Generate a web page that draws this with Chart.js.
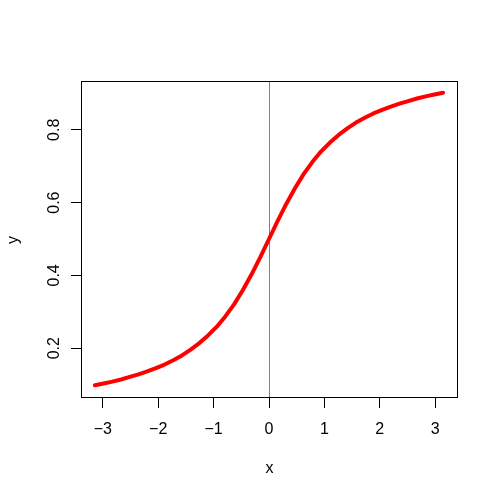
<!DOCTYPE html>
<html>
<head>
<meta charset="utf-8">
<script src="https://cdn.jsdelivr.net/npm/chart.js@4/dist/chart.umd.min.js"></script>
<style>
html,body{margin:0;padding:0;background:#fff;}
#c{display:block;}
</style>
</head>
<body>
<canvas id="c" width="500" height="500"></canvas>
<script>
const xValues = [-3.142,-2.985,-2.827,-2.670,-2.513,-2.356,-2.199,-2.042,-1.885,-1.728,-1.571,-1.414,-1.257,-1.100,-0.942,-0.785,-0.628,-0.471,-0.314,-0.157,0,
  0.157,0.314,0.471,0.628,0.785,0.942,1.100,1.257,1.414,1.571,1.728,1.885,2.042,2.199,2.356,2.513,2.670,2.827,2.985,3.142];
const yValues = [0.098,0.103,0.108,0.114,0.121,0.128,0.136,0.145,0.155,0.167,0.180,0.196,0.214,0.235,0.259,0.288,0.321,0.360,0.403,0.450,0.500,
  0.550,0.597,0.640,0.679,0.712,0.741,0.765,0.786,0.804,0.820,0.833,0.845,0.855,0.864,0.872,0.879,0.886,0.892,0.897,0.902];
const xTicks = [-3,-2,-1,0,1,2,3];
const yTicks = [0.2,0.4,0.6,0.8];
const xLabel = "x";
const yLabel = "y";
const vLineX = 0;

const FONT = "16px 'Liberation Sans', Arial, sans-serif";
const fmt = v => (v < 0 ? "\u2212" + String(Math.abs(v)) : String(v));

const pad = 0.04;
const xMin = Math.min(...xValues), xMax = Math.max(...xValues);
const yMin = Math.min(...yValues), yMax = Math.max(...yValues);
const xr = xMax - xMin, yr = yMax - yMin;

const vlinePlugin = {
  id: 'vline',
  beforeDatasetsDraw(chart) {
    const ctx = chart.ctx, a = chart.chartArea;
    const px = Math.round(chart.scales.x.getPixelForValue(vLineX)) + 0.5;
    ctx.save();
    ctx.strokeStyle = '#808080';
    ctx.lineWidth = 1;
    ctx.beginPath();
    ctx.moveTo(px, a.top);
    ctx.lineTo(px, a.bottom);
    ctx.stroke();
    ctx.restore();
  }
};

const framePlugin = {
  id: 'frame',
  afterDraw(chart) {
    const ctx = chart.ctx, a = chart.chartArea;
    const xs = chart.scales.x, ys = chart.scales.y;
    ctx.save();
    ctx.strokeStyle = '#000';
    ctx.lineWidth = 1;
    ctx.strokeRect(Math.round(a.left) + 0.5, Math.round(a.top) + 0.5,
                   Math.round(a.right - a.left), Math.round(a.bottom - a.top));
    ctx.fillStyle = '#000';
    ctx.font = FONT;
    ctx.textAlign = 'center';
    ctx.textBaseline = 'alphabetic';
    xTicks.forEach(v => ctx.fillText(fmt(v), xs.getPixelForValue(v), 434));
    yTicks.forEach(v => {
      ctx.save();
      ctx.translate(59, ys.getPixelForValue(v));
      ctx.rotate(-Math.PI / 2);
      ctx.fillText(fmt(v), 0, 0);
      ctx.restore();
    });
    ctx.fillText(xLabel, (a.left + a.right) / 2 + 0.5, 473);
    ctx.save();
    ctx.translate(17.5, (a.top + a.bottom) / 2 + 1);
    ctx.rotate(-Math.PI / 2);
    ctx.fillText(yLabel, 0, 0);
    ctx.restore();
    ctx.restore();
  }
};

new Chart(document.getElementById('c'), {
  type: 'scatter',
  data: {
    datasets: [
      {
        data: xValues.map((x, i) => ({x, y: yValues[i]})),
        showLine: true, borderColor: '#FF0000', borderWidth: 4, pointRadius: 0,
        borderCapStyle: 'round', borderJoinStyle: 'round', tension: 0
      }
    ]
  },
  options: {
    responsive: false,
    animation: false,
    devicePixelRatio: 1,
    layout: { padding: { left: 0, top: 81, right: 43, bottom: 0 } },
    plugins: { legend: { display: false }, tooltip: { enabled: false } },
    scales: {
      x: {
        type: 'linear',
        min: xMin - xr * pad, max: xMax + xr * pad,
        afterBuildTicks: s => { s.ticks = xTicks.map(v => ({value: v})); },
        afterFit: s => { s.height = 103; },
        ticks: { display: false },
        grid: { display: true, drawOnChartArea: false, drawTicks: true, tickLength: 11, color: '#000', tickColor: '#000', lineWidth: 1 },
        border: { display: false }
      },
      y: {
        type: 'linear',
        min: yMin - yr * pad, max: yMax + yr * pad,
        afterBuildTicks: s => { s.ticks = yTicks.map(v => ({value: v})); },
        afterFit: s => { s.width = 81; },
        ticks: { display: false },
        grid: { display: true, drawOnChartArea: false, drawTicks: true, tickLength: 10, color: '#000', tickColor: '#000', lineWidth: 1 },
        border: { display: false }
      }
    }
  },
  plugins: [vlinePlugin, framePlugin]
});
</script>
</body>
</html>
